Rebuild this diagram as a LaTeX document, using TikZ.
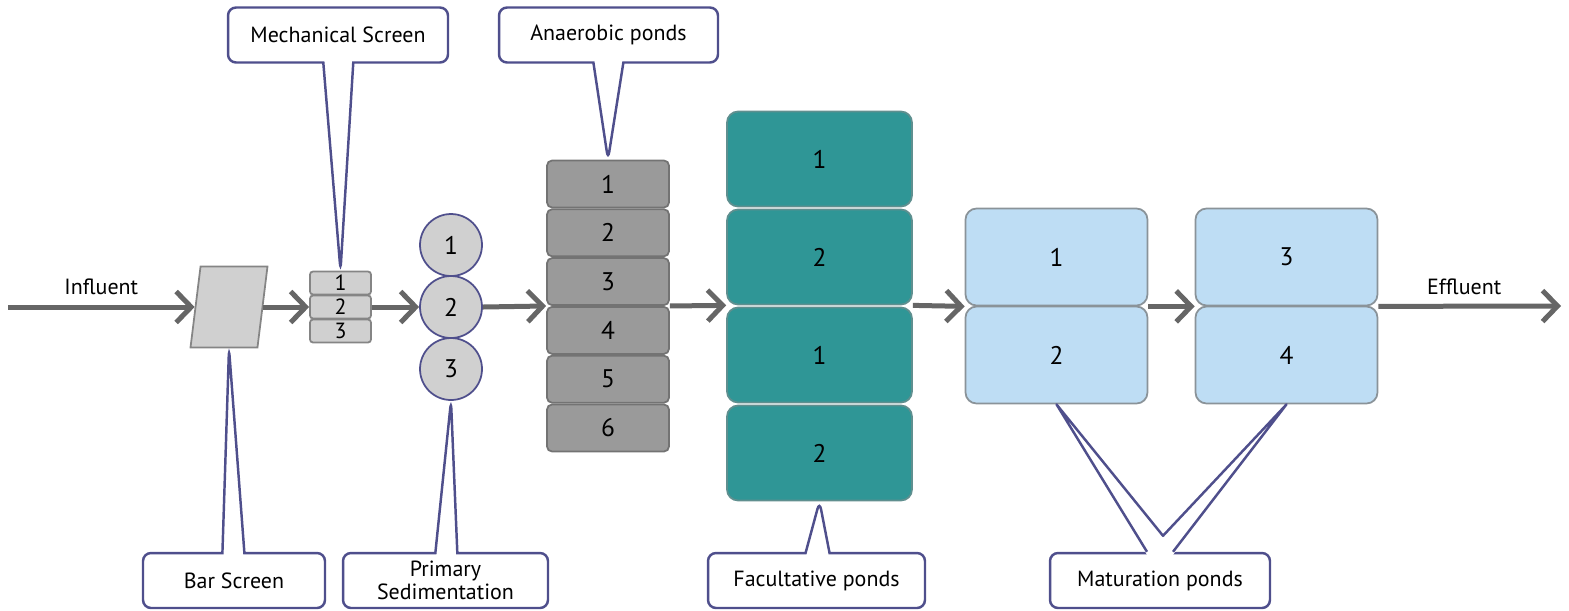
\documentclass[tikz,border=0pt]{standalone}
\usepackage{fontspec}
\setmainfont{PT Sans}
\usepackage{tikz}
\usetikzlibrary{arrows.meta, positioning, shapes.geometric, shapes.callouts, calc}
\usepackage{xcolor}

\definecolor{flowgray}{HTML}{666666}
\definecolor{screengray}{HTML}{D0D0D0}
\definecolor{edgegray}{HTML}{858585}
\definecolor{anagray}{HTML}{9A9A9A}
\definecolor{anaedge}{HTML}{737373}
\definecolor{facteal}{HTML}{2F9696}
\definecolor{facedge}{HTML}{5F8F8F}
\definecolor{matblue}{HTML}{BEDDF4}
\definecolor{matedge}{HTML}{8A9399}
\definecolor{callblue}{HTML}{4F4F8C}

\begin{document}
\begin{tikzpicture}[
        x=0.02cm, y=-0.02cm,
        every node/.style={font=\fontsize{12.5}{14}\selectfont},
        flow/.style={
          draw=flowgray,
          line width=0.1cm,
          -{Straight Barb[length=0.3cm, width=0.62cm]}
        },
        barscreen/.style={
          trapezium,
          trapezium left angle=80,
          trapezium right angle=100,
          trapezium stretches=true,
          minimum width=1.54cm,
          minimum height=1.62cm,
          inner sep=1pt,
          fill=screengray,
          draw=edgegray,
          line width=1pt
        },
        mesh/.style={
          rectangle,
          rounded corners=0.06cm,
          minimum width=1.22cm,
          minimum height=0.46cm,
          inner sep=0pt,
          fill=screengray,
          draw=edgegray,
          line width=1pt,
          font=\fontsize{12.5}{12.5}\selectfont
        },
        sedtank/.style={
          circle,
          minimum size=1.24cm,
          inner sep=0pt,
          fill=screengray,
          draw=callblue,
          line width=1pt,
          font=\fontsize{14.5}{16}\selectfont
        },
        anapond/.style={
          rectangle,
          rounded corners=0.1cm,
          minimum width=2.44cm,
          minimum height=0.94cm,
          inner sep=0pt,
          fill=anagray,
          draw=anaedge,
          line width=1pt,
          font=\fontsize{14.5}{16}\selectfont
        },
        facpond/.style={
          rectangle,
          rounded corners=0.22cm,
          minimum width=3.7cm,
          minimum height=1.9cm,
          inner sep=0pt,
          fill=facteal,
          draw=facedge,
          line width=1pt,
          font=\fontsize{14.5}{16}\selectfont
        },
        matpond/.style={
          rectangle,
          rounded corners=0.22cm,
          minimum width=3.64cm,
          minimum height=1.94cm,
          inner sep=0pt,
          fill=matblue,
          draw=matedge,
          line width=1pt,
          font=\fontsize{14.5}{16}\selectfont
        },
        callbox/.style={
          rectangle callout,
          rounded corners=0.16cm,
          minimum height=1.1cm,
          inner sep=2pt,
          align=center,
          fill=white,
          draw=callblue,
          line width=1.4pt
        }
      ]

      \useasboundingbox (0,0) rectangle (1569,610);

      % Screens
      \node[barscreen] (bar) at (229,307) {};
      \node[mesh] (ms1) at (340.5,283) {1};
      \node[mesh] (ms2) at (340.5,307) {2};
      \node[mesh] (ms3) at (340.5,331) {3};

      % Primary sedimentation
      \node[sedtank] (sed1) at (451,245) {1};
      \node[sedtank] (sed2) at (451,307) {2};
      \node[sedtank] (sed3) at (451,369) {3};

      % Anaerobic ponds
      \node[anapond] (ana1) at (608,184) {1};
      \node[anapond] (ana2) at (608,232.8) {2};
      \node[anapond] (ana3) at (608,281.6) {3};
      \node[anapond] (ana4) at (608,330.4) {4};
      \node[anapond] (ana5) at (608,379.2) {5};
      \node[anapond] (ana6) at (608,428) {6};

      % Facultative ponds
      \node[facpond] (fac1) at (819.5,159) {1};
      \node[facpond] (fac2) at (819.5,257) {2};
      \node[facpond] (fac3) at (819.5,355) {1};
      \node[facpond] (fac4) at (819.5,453) {2};

      % Maturation ponds
      \node[matpond] (mat1) at (1056.5,257) {1};
      \node[matpond] (mat2) at (1056.5,355) {2};
      \node[matpond] (mat3) at (1286.5,257) {3};
      \node[matpond] (mat4) at (1286.5,355) {4};

      % Flow
      \coordinate (in) at (8,307);
      \coordinate (out) at (1561,306);
      \draw[flow] (in) -- (bar.west) node[midway, above=2pt] (inlbl) {Influent};
      \draw[flow] (bar.east) -- (ms2.west);
      \draw[flow] (ms2.east) -- (sed2.west);
      \draw[flow] (sed2.east) -- (ana3.south west);
      \draw[flow] (ana3.south east) -- (fac2.south west);
      \draw[flow] (fac2.south east) -- (mat1.south west);
      \draw[flow] (mat1.south east) -- (mat3.south west);
      \draw[flow] (mat3.south east) -- (out) node[pos=0.47, above=2pt] (outlbl) {Effluent};

      % Callouts
      \node[callbox, minimum width=4.4cm, callout absolute pointer={(ms1.north)},
        callout pointer width=0.6cm] (mscall) at (338,35) {Mechanical Screen};
      \node[callbox, minimum width=4.38cm, callout absolute pointer={(ana1.north)},
        callout pointer width=0.6cm] (anacall) at (608.5,35) {Anaerobic ponds};
      \node[callbox, minimum width=3.64cm, callout absolute pointer={(bar.south)},
        callout pointer width=0.44cm] (barcall) at (234,580.5) {Bar Screen};
      \node[callbox, minimum width=4.1cm, callout absolute pointer={(sed3.south)},
        callout pointer width=0.44cm] (sedcall) at (445.5,580.5) {Primary\\[-1pt]Sedimentation};
      \node[callbox, minimum width=4.34cm, callout absolute pointer={(fac4.south)},
        callout pointer width=0.48cm] (faccall) at (816.5,580.5) {Facultative ponds};

      % Maturation callout with two tails
      \node[callbox, rectangle, minimum width=4.4cm] (matcall) at (1160,580.5) {Maturation ponds};
      \fill[white] ($(matcall.north)+(-13,3)$) -- (mat2.south) -- ($(matcall.north)+(3,-16)$)
        -- (mat4.south) -- ($(matcall.north)+(13,3)$) -- cycle;
      \draw[callblue, line width=1.4pt, line join=round] ($(matcall.north)+(-13,0)$) -- (mat2.south)
        -- ($(matcall.north)+(3,-16)$) -- (mat4.south) -- ($(matcall.north)+(13,0)$);

    \end{tikzpicture}
\end{document}
